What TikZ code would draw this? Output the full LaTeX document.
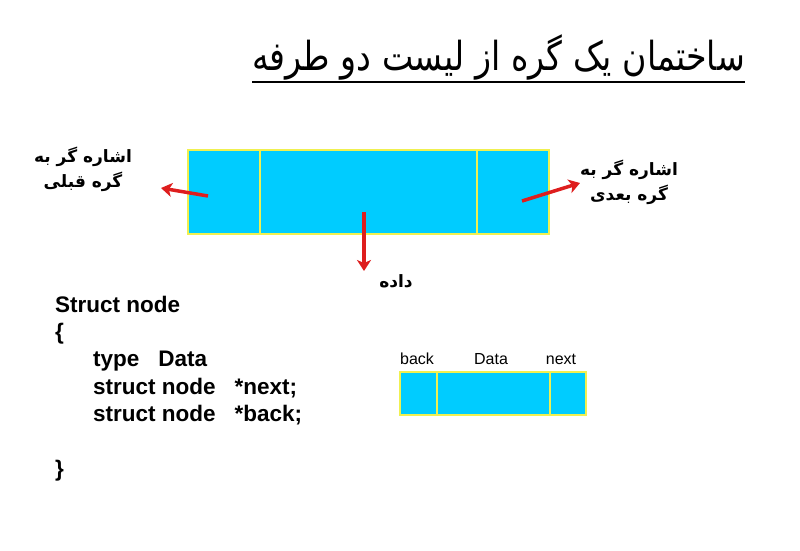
\documentclass[tikz,border=0pt]{standalone}
\usepackage{fontspec}
\usepackage{graphicx}
\setmainfont{Liberation Sans}
\newfontfamily\arabicfont[Script=Arabic]{DejaVu Sans}
\TeXXeTstate=1
\usetikzlibrary{arrows.meta}
\definecolor{cellfill}{RGB}{0,204,255}
\definecolor{celledge}{RGB}{240,240,80}
\definecolor{arrowred}{RGB}{222,30,30}
\tikzset{
  cell/.style={draw=celledge, fill=cellfill, line width=1.5pt},
  ptr/.style={draw=arrowred, line width=3.5pt, -{Stealth[length=11pt,width=14pt,inset=3pt]}},
  falabel/.style={font=\arabicfont\bfseries\fontsize{17}{25}\selectfont, align=center},
  code/.style={font=\bfseries\fontsize{22.5}{26}\selectfont, anchor=base west, inner sep=0pt},
  small/.style={font=\fontsize{16}{18}\selectfont, anchor=base, inner sep=0pt}
}
\begin{document}
\begin{tikzpicture}[x=1pt,y=1pt]
\useasboundingbox (0,0) rectangle (800,-550);
% title
\node[font=\arabicfont\fontsize{40}{44}\selectfont, anchor=base east, inner sep=0pt] (title) at (745,-70) {\scalebox{0.83}[1]{\beginR ساختمان یک گره از لیست دو طرفه\endR}};
\coordinate (ul1) at (252,-82);
\coordinate (ul2) at (745,-82);
\draw[line width=1.2pt] (ul1) -- (ul2);
% big node
\node[cell, minimum width=72pt, minimum height=84pt, anchor=north west, inner sep=0pt] (bback) at (187,-149) {};
\node[cell, minimum width=217pt, minimum height=84pt, anchor=north west, inner sep=0pt] (bdata) at (259,-149) {};
\node[cell, minimum width=72pt, minimum height=84pt, anchor=north west, inner sep=0pt] (bnext) at (476,-149) {};
% arrows
\coordinate (la1) at (208,-196);
\coordinate (la2) at (161,-188);
\coordinate (ra1) at (522,-201);
\coordinate (ra2) at (580,-183);
\coordinate (da1) at (364,-212);
\coordinate (da2) at (364,-271);
\draw[ptr] (la1) -- (la2);
\draw[ptr] (ra1) -- (ra2);
\draw[ptr] (da1) -- (da2);
% labels
\node[falabel] (lprev) at (83,-169) {\beginR اشاره گر به\endR\\\beginR گره قبلی\endR};
\node[falabel] (lnext) at (629,-182) {\beginR اشاره گر به\endR\\\beginR گره بعدی\endR};
\node[falabel] (ldata) at (396,-281) {\beginR داده\endR};
% code
\node[code] (c1) at (55,-312) {Struct node};
\node[code] (c2) at (55,-339) {\{};
\node[code] (c3) at (93,-366) {type\hspace{19pt}Data};
\node[code] (c4) at (93,-394) {struct node\hspace{19pt}*next;};
\node[code] (c5) at (93,-421) {struct node\hspace{19pt}*back;};
\node[code] (c6) at (55,-476) {\}};
% small node
\node[cell, minimum width=37pt, minimum height=43pt, anchor=north west, inner sep=0pt] (sback) at (399,-371) {};
\node[cell, minimum width=113pt, minimum height=43pt, anchor=north west, inner sep=0pt] (sdata) at (436,-371) {};
\node[cell, minimum width=36pt, minimum height=43pt, anchor=north west, inner sep=0pt] (snext) at (549,-371) {};
\node[small] (tback) at (417,-364) {back};
\node[small] (tdata) at (491,-364) {Data};
\node[small] (tnext) at (561,-364) {next};
\end{tikzpicture}
\end{document}
